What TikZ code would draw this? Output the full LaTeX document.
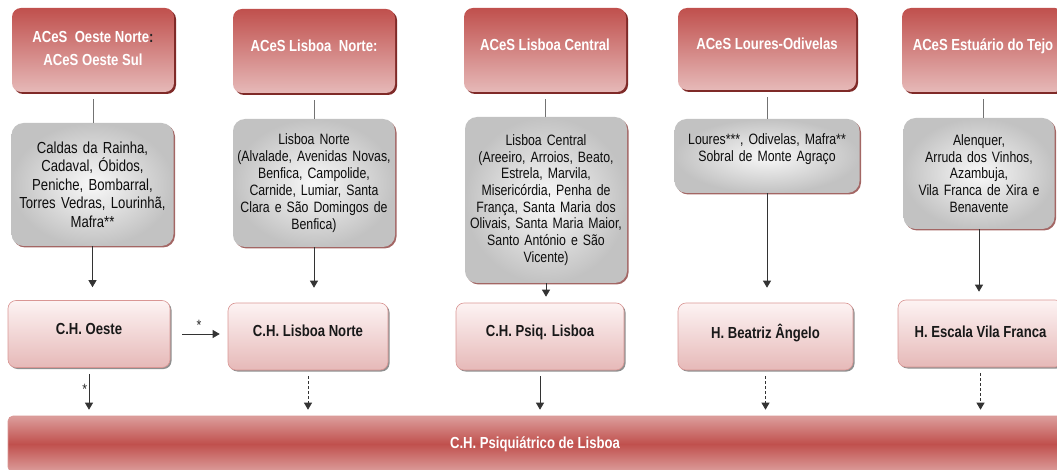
\documentclass[tikz,border=0pt]{standalone}
\usepackage{fontspec}
\setmainfont{Liberation Sans}[FakeStretch=0.82]
\usepackage{tikz}
\usetikzlibrary{arrows.meta,shadows}

\definecolor{aceRed}{HTML}{C0504D}
\definecolor{acePink}{HTML}{E6B9B8}
\definecolor{aceDark}{HTML}{7F2A28}
\definecolor{boxGray}{HTML}{C2C2C2}
\definecolor{hospTop}{HTML}{FDF3F3}
\definecolor{hospLine}{HTML}{D99694}
\definecolor{barPink}{HTML}{DC9E9C}

\begin{document}
\begin{tikzpicture}[x=1pt,y=-1pt,
    aces node/.style={rounded corners=9pt, top color=aceRed, bottom color=acePink,
      minimum width=162pt, minimum height=84pt, text=white, align=center,
      text depth=11pt, font=\fontsize{16}{23}\selectfont\bfseries,
      drop shadow={shadow xshift=2pt, shadow yshift=-2pt, fill=aceDark, opacity=1}},
    area node/.style={rounded corners=12pt, inner color=white!95!gray, outer color=boxGray,
      minimum width=162pt, text width=160pt, align=center, inner sep=0pt,
      font=\fontsize{15}{16.7}\selectfont, text=black!95,
      drop shadow={shadow xshift=1.5pt, shadow yshift=-1.5pt, fill=aceDark!80, opacity=0.9}},
    hosp node/.style={rounded corners=8pt, top color=hospTop, bottom color=acePink,
      draw=hospLine, line width=0.6pt, minimum width=162pt, minimum height=67pt,
      text depth=11pt, text=black!90, font=\fontsize{16}{19}\selectfont\bfseries,
      drop shadow={shadow xshift=1.5pt, shadow yshift=-1.5pt, fill=black!55, opacity=0.8}},
    bar node/.style={rounded corners=5pt, top color=barPink, bottom color=barPink,
      middle color=aceRed, draw=hospLine, line width=0.6pt, text=white,
      font=\fontsize{16}{19}\selectfont\bfseries},
    link/.style={draw=black!55, line width=0.7pt},
    flow/.style={draw=black!80, line width=0.8pt, -{Triangle[width=8pt,length=7pt]}},
    weak flow/.style={flow, dash pattern=on 3pt off 2pt}]

  \useasboundingbox (0,0) rectangle (1057,470);

  %Headers%
  \node[aces node, text depth=4pt] (a1) at (93,50) {ACeS\ \ Oeste Norte{\color{black!85}:}\\ACeS Oeste Sul};
  \node[aces node] (a2) at (314,51) {ACeS Lisboa\ \ Norte:};
  \node[aces node] (a3) at (545,50) {ACeS Lisboa Central};
  \node[aces node, minimum width=178pt, minimum height=82pt] (a4) at (767,49) {ACeS Loures-Odivelas};
  \node[aces node] (a5) at (983,50) {ACeS Estuário do Tejo};

  %Areas%
  \node[area node, minimum height=123pt, font=\fontsize{16}{18.5}\selectfont] (g1) at (92.5,184.5)
    {Caldas da Rainha,\\Cadaval, Óbidos,\\Peniche, Bombarral,\\Torres Vedras, Lourinhã,\\Mafra**};
  \node[area node, minimum height=128pt, text width=162pt, font=\fontsize{15}{17}\selectfont] (g2) at (314,183)
    {Lisboa Norte\\(Alvalade, Avenidas Novas,\\Benfica, Campolide,\\Carnide, Lumiar, Santa\\Clara e São Domingos de\\Benfica)};
  \node[area node, minimum height=166pt] (g3) at (546,200)
    {Lisboa Central\\(Areeiro, Arroios, Beato,\\Estrela, Marvila,\\Misericórdia, Penha de\\França, Santa Maria dos\\Olivais, Santa Maria Maior,\\Santo António e São\\Vicente)};
  \node[area node, minimum width=185pt, text width=183pt, minimum height=74pt] (g4) at (767,156)
    {Loures***, Odivelas, Mafra**\\Sobral de Monte Agraço\\\mbox{}};
  \node[area node, minimum width=151pt, text width=149pt, minimum height=111pt] (g5) at (979,173.5)
    {Alenquer,\\Arruda dos Vinhos,\\Azambuja,\\Vila Franca de Xira e\\Benavente};

  %Hospitals%
  \node[hosp node] (o1) at (89,334) {C.H. Oeste};
  \node[hosp node, minimum width=160pt] (o2) at (308,336.5) {C.H. Lisboa Norte};
  \node[hosp node, minimum width=168pt] (o3) at (540,336.5) {C.H. Psiq. Lisboa};
  \node[hosp node, minimum width=175pt] (o4) at (765.5,336.5) {H. Beatriz Ângelo};
  \node[hosp node, minimum width=165pt, text depth=3pt] (o5) at (980.5,333.5) {H. Escala Vila Franca};

  \node[bar node, minimum width=1054pt, minimum height=56pt] (bar) at (535,444) {C.H. Psiquiátrico de Lisboa};

  %Links%
  \path[every edge/.style={link, shorten <=7pt}]
    (a1.south) edge (a1.south |- g1.north)
    (a2.south) edge (a2.south |- g2.north)
    (a3.south) edge (a3.south |- g3.north)
    (a4.south) edge (a4.south |- g4.north)
    (a5.south) edge (a5.south |- g5.north);

  \path[every edge/.style={flow}, every node/.style={font=\fontsize{15}{15}\selectfont, text=black!85}]
    (g1.south) edge[shorten >=13pt] (g1.south |- o1.north)
    (g2.south) edge[shorten >=15pt] (g2.south |- o2.north)
    (g3.south) edge[shorten >=6pt] (g3.south |- o3.north)
    (g4.south) edge[shorten >=15pt] (g4.south |- o4.north)
    (g5.south) edge[shorten >=8pt] (g5.south |- o5.north)
    (o1.east) edge[shorten <=12pt, shorten >=8pt] node[above=0pt] {*} (o1.east -| o2.west)
    (o1.south) edge[shorten <=6pt, shorten >=6pt] node[left=-2pt, pos=0.45] {*} (o1.south |- bar.north)
    (o3.south) edge[shorten <=6pt, shorten >=6pt] (o3.south |- bar.north);

  \path[every edge/.style={weak flow, shorten <=6pt, shorten >=6pt}]
    (o2.south) edge (o2.south |- bar.north)
    (o4.south) edge (o4.south |- bar.north)
    (o5.south) edge (o5.south |- bar.north);
\end{tikzpicture}
\end{document}
